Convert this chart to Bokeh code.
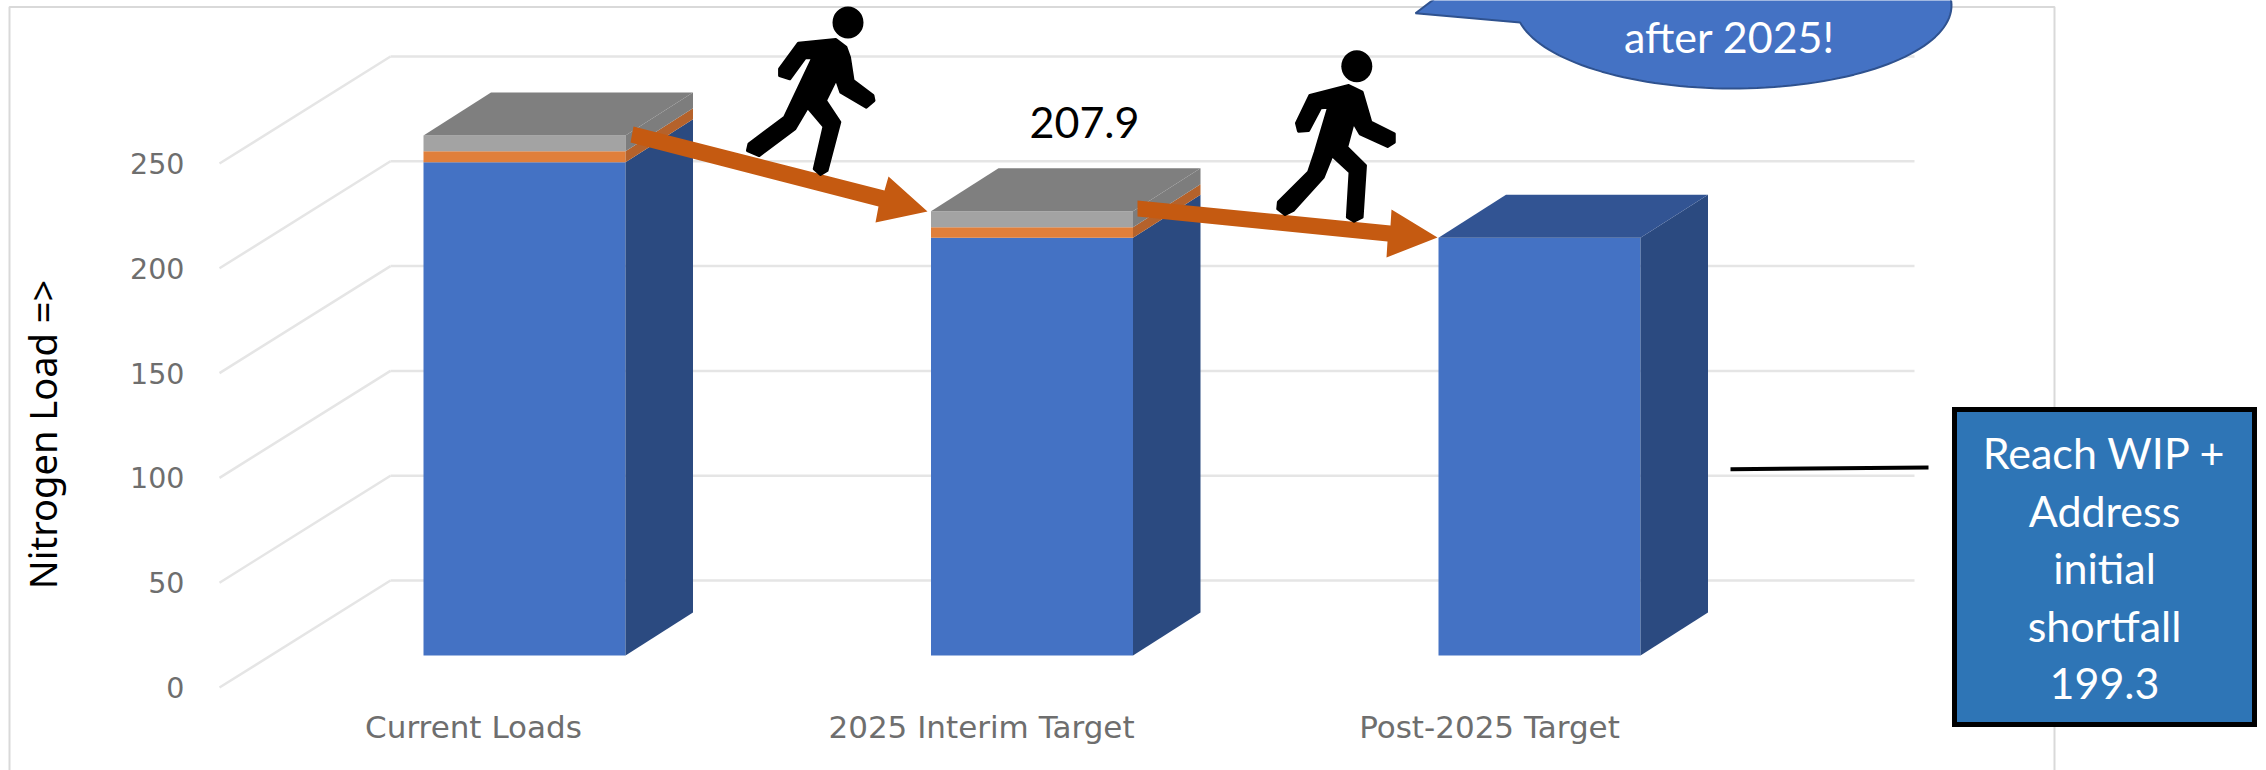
import numpy as np
from bokeh.plotting import figure
from bokeh.models import Range1d, FixedTicker, LinearAxis
from bokeh.core.properties import value
from bokeh.embed import file_html
from bokeh.resources import INLINE

# ---- chart data ----
categories = ["Current Loads", "2025 Interim Target", "Post-2025 Target"]
blue = [235.3, 199.3, 199.3]
orange = [5.3, 5.0, 0.0]
gray = [7.5, 7.7, 0.0]
y_ticks = [0, 50, 100, 150, 200, 250]
data_label = "207.9"
box_lines = ["Reach WIP +", "Address", "initial", "shortfall", "199.3"]
callout_text = "after 2025!"
y_title = "Nitrogen Load =>"

# ---- layout of the 3-D plot box ----
W, H = 2266, 770
X0, PX_CAT = 219.0, 508.0     # left front corner, pixels per category
Y0, PX_UNIT = 687.0, 2.096    # y=0 of the front plane, pixels per unit
WALL_DX, WALL_DY = 171 / PX_CAT, 107 / PX_UNIT
BAR_W = 202 / PX_CAT
BAR_DX, BAR_DY = 67.5 / PX_CAT, 43 / PX_UNIT
BASE = 32 / PX_UNIT


def X(px):
    return (np.asarray(px, dtype=float) - X0) / PX_CAT


def Y(py):
    return (Y0 - np.asarray(py, dtype=float)) / PX_UNIT


p = figure(width=W, height=H, output_backend="svg", toolbar_location=None,
           x_range=Range1d(float(X(0)), float(X(W))),
           y_range=Range1d(float(Y(H)), float(Y(0))),
           x_axis_location=None, y_axis_location=None,
           min_border=0, outline_line_color=None)
p.grid.visible = False
p.background_fill_color = "white"

# outer chart frame
p.line(X([9, 9, 2054, 2054]), Y([800, 6.5, 6.5, 800]), line_color="#D9D9D9", line_width=2)

# gridlines: back wall and side wall
GRID = "#E5E5E5"
nc = len(categories)
for v in y_ticks:
    p.line([WALL_DX, WALL_DX + nc], [v + WALL_DY, v + WALL_DY], line_color=GRID, line_width=2.5)
    p.line([0, WALL_DX], [v, v + WALL_DY], line_color=GRID, line_width=2.5)

# axes, placed inside the full-page frame
xa = LinearAxis(fixed_location=0, ticker=FixedTicker(ticks=[i + 0.5 for i in range(nc)]),
                major_label_overrides={i + 0.5: c for i, c in enumerate(categories)},
                axis_line_color=None, major_tick_line_color=None, minor_tick_line_color=None,
                major_label_standoff=15, major_label_text_font="DejaVu Sans",
                major_label_text_font_size="31px", major_label_text_color="#6E6E6E")
p.add_layout(xa, "below")
ya = LinearAxis(fixed_location=0, ticker=FixedTicker(ticks=y_ticks),
                axis_line_color=None, major_tick_line_color=None, minor_tick_line_color=None,
                major_label_standoff=29, major_label_text_font="DejaVu Sans",
                major_label_text_font_size="28.5px", major_label_text_color="#6E6E6E")
p.add_layout(ya, "left")

# stacked 3-D bars
front_colors = ["#4472C4", "#E07F3B", "#A3A3A3"]
side_colors = ["#2B4A80", "#B5622B", "#7D7D7D"]
top_colors = ["#325493", "#B5622B", "#7F7F7F"]
series = [blue, orange, gray]
for i in range(nc):
    left = (423 + i * 507.5 - X0) / PX_CAT
    right = left + BAR_W
    bottom = BASE
    top_col = None
    for vals, fc, sc, tc in zip(series, front_colors, side_colors, top_colors):
        v = vals[i]
        if v <= 0:
            continue
        p.quad(left=[left], right=[right], bottom=[bottom], top=[bottom + v],
               fill_color=fc, line_color=None)
        p.patch([right, right + BAR_DX, right + BAR_DX, right],
                [bottom, bottom + BAR_DY, bottom + v + BAR_DY, bottom + v],
                fill_color=sc, line_color=None)
        bottom += v
        top_col = tc
    p.patch([left, left + BAR_DX, right + BAR_DX, right],
            [bottom, bottom + BAR_DY, bottom + BAR_DY, bottom],
            fill_color=top_col, line_color=None)

# axis title
p.text(x=X([41]), y=Y([434]), text=[y_title], angle=np.pi / 2, text_align="center",
       text_baseline="alphabetic", text_font=value("Noto Sans"), text_font_size="38px",
       text_color="black")

# data label
p.text(x=X([1084]), y=Y([122]), text=[data_label], text_align="center", text_baseline="middle",
       text_font=value("Lato"), text_font_size="43px", text_color="black")

# orange arrows
ARROW = "#C55A11"
a1 = [(633, 126), (884, 190), (888, 176), (927, 211), (875, 222), (878, 206), (630, 142)]
a2 = [(1137, 200), (1390, 225), (1391, 209), (1437, 237), (1386, 257), (1387, 241), (1137, 216)]
for a in (a1, a2):
    p.patch(X([q[0] for q in a]), Y([q[1] for q in a]), fill_color=ARROW, line_color=None)

# walking figures
w1 = [(1172, 128), (1245, 117), (1265, 140), (1272, 170), (1279, 240), (1318, 285), (1320, 300),
      (1305, 320), (1255, 275), (1246, 235), (1225, 300), (1253, 365), (1228, 510), (1215, 522),
      (1203, 505), (1222, 378), (1190, 320), (1165, 385), (1095, 465), (1072, 450), (1075, 430),
      (1145, 350), (1200, 172), (1185, 172), (1155, 235), (1135, 225), (1135, 205)]
w2 = [(520, 255), (540, 275), (553, 365), (588, 400), (588, 425), (578, 438), (537, 400), (527, 365),
      (517, 440), (545, 495), (540, 650), (528, 662), (518, 650), (522, 515), (495, 465), (482, 530),
      (437, 630), (425, 642), (414, 625), (415, 605), (460, 515), (470, 455), (490, 320), (478, 322),
      (460, 390), (445, 392), (442, 368), (462, 285)]
p.patch(X([q[0] / 1.96 + 200 for q in w1]), Y([q[1] / 3 for q in w1]), fill_color="black",
        line_color="black", line_width=3, line_join="round")
p.patch(X([q[0] / 1.4933 + 1000 for q in w2]), Y([q[1] / 3 for q in w2]), fill_color="black",
        line_color="black", line_width=3, line_join="round")
p.ellipse(x=X([847.5, 1356.3]), y=Y([22, 65.7]), width=[31 / PX_CAT] * 2, height=[32 / PX_UNIT] * 2,
          fill_color="black", line_color=None)

# speech-bubble callout, cut by the top of the picture
t = np.radians(np.linspace(-12, 168.2, 80))
cx, cy, ra, rb = 1733.0, 5.0, 218.0, 83.0
ex = cx + ra * np.cos(t)
ey = cy + rb * np.sin(t)
bx = np.concatenate([ex, [1415, 1445]])
by = np.concatenate([ey, [12.7, -10]])
p.patch(X(bx), Y(by), fill_color="#4472C4", line_color="#2F528F", line_width=2)
p.text(x=X([1729]), y=Y([36]), text=[callout_text], text_align="center", text_baseline="middle",
       text_font=value("Lato"), text_font_size="43px", text_color="white")

# leader line and text box
p.line(X([1730, 1928]), Y([468.7, 467]), line_color="black", line_width=4)
p.quad(left=X([1954]), right=X([2254]), top=Y([409]), bottom=Y([724]),
       fill_color="#2E75B6", line_color="black", line_width=5, line_join="miter")
box_y = [452, 510, 567, 625, 683]
p.text(x=X([2104] * 5), y=Y(box_y), text=box_lines, text_align="center", text_baseline="middle",
       text_font=value("Lato"), text_font_size="43px", text_color="white")

open("out.html", "w").write(file_html(p, INLINE))
